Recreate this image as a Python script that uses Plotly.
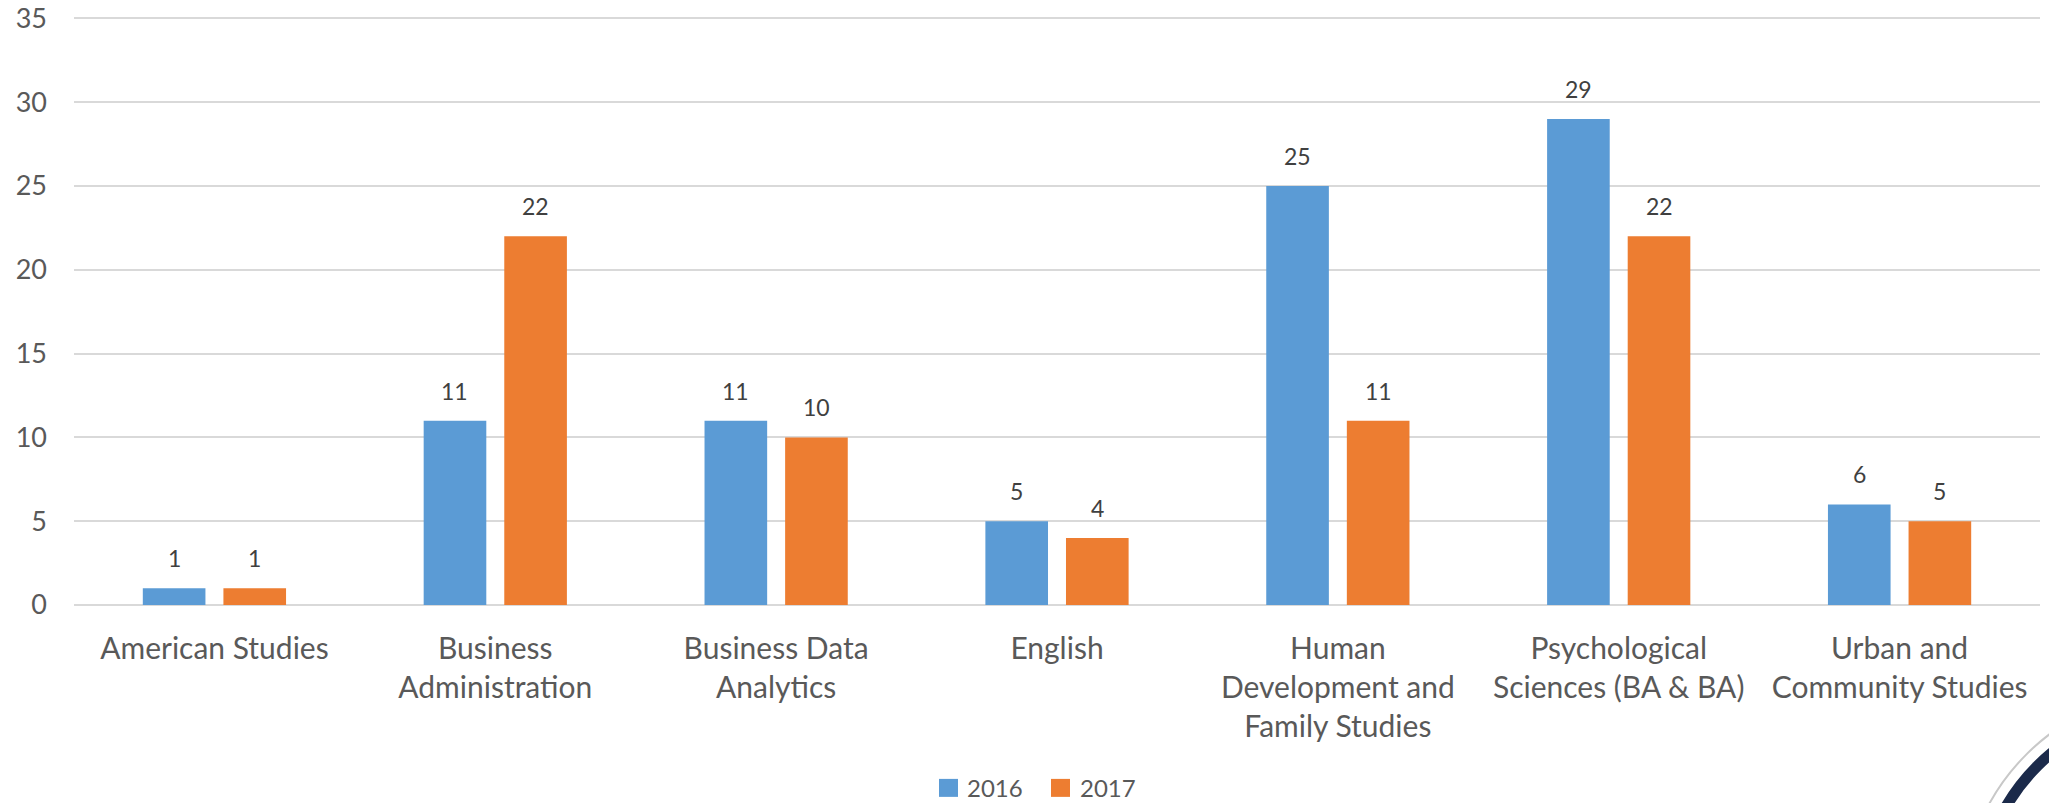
import plotly.graph_objects as go

# -----------------------------
# Data
# -----------------------------
programs = [
    "American Studies",
    "Business<br>Administration",
    "Business Data<br>Analytics",
    "English",
    "Human<br>Development and<br>Family Studies",
    "Psychological<br>Sciences (BA & BA)",
    "Urban and<br>Community Studies",
]
series_names = ["2016", "2017"]
values_2016 = [1, 11, 11, 5, 25, 29, 6]
values_2017 = [1, 22, 10, 4, 11, 22, 5]
y_ticks = [0, 5, 10, 15, 20, 25, 30, 35]

colors = ["#5B9BD5", "#ED7D31"]
text_color = "#595959"
font_family = "Lato, 'Open Sans', sans-serif"

# pixel geometry of the plot area (used for paper-coordinate decorations)
# y range goes a touch past 35 so the top gridline is not clipped
W, H = 2049, 803
y_max = 35.5
L, R, B = 74, 9, 198
zero_px = H - B                      # pixel row of y = 0
unit_px = (605 - 18) / 35            # pixels per unit
T = zero_px - unit_px * y_max
plot_w = W - L - R
plot_h = H - T - B


def px_x(px):
    return (px - L) / plot_w


def px_y(py):
    return (H - B - py) / plot_h


fig = go.Figure()
for name, vals, col in zip(series_names, [values_2016, values_2017], colors):
    fig.add_trace(go.Bar(
        x=programs,
        y=vals,
        name=name,
        marker=dict(color=col, line=dict(width=0)),
        showlegend=False,
    ))

# data labels above bars
slot = plot_w / len(programs) * (1 - 0.426) / 2
for k, vals in enumerate([values_2016, values_2017]):
    shift = (k - 0.5) * slot
    for cat, v in zip(programs, vals):
        fig.add_annotation(
            x=cat, y=v, text=str(v), showarrow=False,
            xshift=shift, yshift=30, yanchor="middle",
            font=dict(size=23, color="#404040", family=font_family),
        )

# custom legend (square swatches + labels)
legend_items = [(939, 965), (1051, 1078)]
for (sx, tx), name, col in zip(legend_items, series_names, colors):
    fig.add_shape(
        type="rect", xref="paper", yref="paper",
        x0=px_x(sx), x1=px_x(sx + 19), y0=px_y(797), y1=px_y(779),
        fillcolor=col, line=dict(width=0),
    )
    fig.add_annotation(
        xref="paper", yref="paper", x=px_x(tx), y=px_y(788),
        text=name, showarrow=False, xanchor="left", yanchor="middle",
        font=dict(size=24, color=text_color, family=font_family),
    )

# partial seal in bottom-right corner
fig.add_shape(
    type="circle", xref="paper", yref="paper",
    x0=px_x(1962), x1=px_x(2402), y0=px_y(1130), y1=px_y(690),
    line=dict(color="#C8C8C8", width=2),
)
fig.add_shape(
    type="circle", xref="paper", yref="paper",
    x0=px_x(1978), x1=px_x(2386), y0=px_y(1114), y1=px_y(706),
    line=dict(color="#1B2A4A", width=11),
)

fig.update_layout(
    width=W,
    height=H,
    barmode="group",
    bargap=0.426,
    bargroupgap=0.223,
    plot_bgcolor="white",
    paper_bgcolor="white",
    margin=dict(l=L, r=R, t=T, b=B, autoexpand=False),
    font=dict(family=font_family, color=text_color),
    xaxis=dict(
        showgrid=False,
        showline=False,
        ticks="",
        automargin=False,
        tickfont=dict(size=30, color=text_color),
        ticklabelstandoff=23,
    ),
    yaxis=dict(
        range=[0, y_max],
        tickvals=y_ticks,
        showgrid=True,
        gridcolor="#D9D9D9",
        gridwidth=2,
        zeroline=True,
        zerolinecolor="#D9D9D9",
        zerolinewidth=2,
        showline=False,
        ticks="",
        automargin=False,
        tickfont=dict(size=27, color=text_color),
        ticklabelstandoff=26,
    ),
)

# drop the default body margin so the figure sits flush in the window
fig.write_html(
    "out.html",
    config={"displayModeBar": False},
    post_script="document.body.style.margin='0';document.body.style.overflow='hidden';",
)
